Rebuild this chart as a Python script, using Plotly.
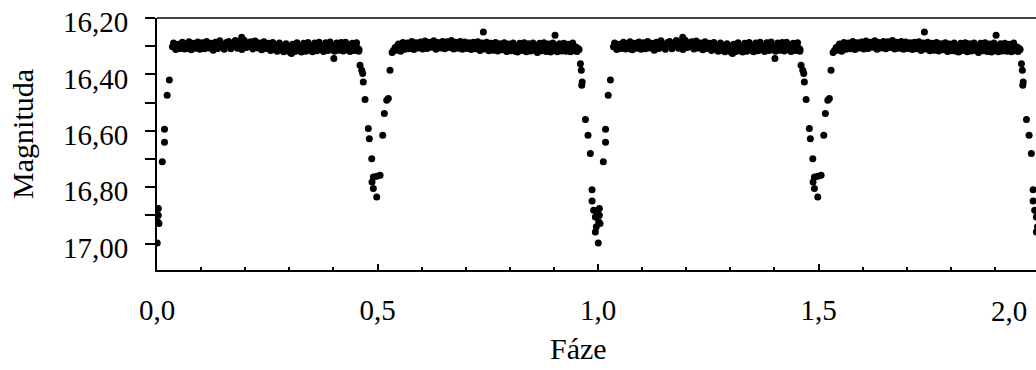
import plotly.graph_objects as go

# ---- one cycle of the folded light curve (phase 0..1) ----
phase_band1 = [0.035, 0.040, 0.045, 0.050, 0.055, 0.060, 0.065, 0.070, 0.075, 0.080,
               0.085, 0.090, 0.095, 0.100, 0.105, 0.110, 0.115, 0.120, 0.125, 0.130,
               0.135, 0.140, 0.145, 0.150, 0.155, 0.160, 0.165, 0.170, 0.175, 0.180,
               0.185, 0.190, 0.195, 0.200, 0.205, 0.210, 0.215, 0.220, 0.225, 0.230,
               0.235, 0.240, 0.245, 0.250, 0.255, 0.260, 0.265, 0.270, 0.275, 0.280,
               0.285, 0.290, 0.295, 0.300, 0.305, 0.310, 0.315, 0.320, 0.325, 0.330,
               0.335, 0.340, 0.345, 0.350, 0.355, 0.360, 0.365, 0.370, 0.375, 0.380,
               0.385, 0.390, 0.395, 0.400, 0.405, 0.410, 0.415, 0.420, 0.425, 0.430,
               0.435, 0.440, 0.445, 0.450, 0.455]
mag_band1 = [16.302, 16.297, 16.305, 16.299, 16.294, 16.301, 16.296, 16.308, 16.300, 16.293,
             16.299, 16.304, 16.296, 16.301, 16.290, 16.297, 16.303, 16.295, 16.300, 16.292,
             16.298, 16.288, 16.296, 16.301, 16.293, 16.287, 16.295, 16.299, 16.291, 16.296,
             16.303, 16.294, 16.289, 16.298, 16.292, 16.300, 16.286, 16.295, 16.299, 16.293,
             16.302, 16.296, 16.290, 16.299, 16.305, 16.294, 16.300, 16.308, 16.297, 16.303,
             16.311, 16.299, 16.306, 16.313, 16.301, 16.309, 16.296, 16.304, 16.312, 16.300,
             16.306, 16.297, 16.303, 16.310, 16.299, 16.305, 16.294, 16.301, 16.307, 16.298,
             16.304, 16.295, 16.302, 16.308, 16.297, 16.303, 16.299, 16.306, 16.296, 16.301,
             16.309, 16.298, 16.304, 16.300, 16.307]

phase_band1b = [0.0375, 0.0425, 0.0475, 0.0525, 0.0575, 0.0625, 0.0675, 0.0725, 0.0775, 0.0825,
                0.0875, 0.0925, 0.0975, 0.1025, 0.1075, 0.1125, 0.1175, 0.1225, 0.1275, 0.1325,
                0.1375, 0.1425, 0.1475, 0.1525, 0.1575, 0.1625, 0.1675, 0.1725, 0.1775, 0.1825,
                0.1875, 0.1925, 0.1975, 0.2025, 0.2075, 0.2125, 0.2175, 0.2225, 0.2275, 0.2325,
                0.2375, 0.2425, 0.2475, 0.2525, 0.2575, 0.2625, 0.2675, 0.2725, 0.2775, 0.2825,
                0.2875, 0.2925, 0.2975, 0.3025, 0.3075, 0.3125, 0.3175, 0.3225, 0.3275, 0.3325,
                0.3375, 0.3425, 0.3475, 0.3525, 0.3575, 0.3625, 0.3675, 0.3725, 0.3775, 0.3825,
                0.3875, 0.3925, 0.3975, 0.4025, 0.4075, 0.4125, 0.4175, 0.4225, 0.4275, 0.4325,
                0.4375, 0.4425, 0.4475, 0.4525, 0.4575]
mag_band1b = [16.289, 16.312, 16.293, 16.308, 16.286, 16.310, 16.291, 16.284, 16.313, 16.290,
              16.307, 16.285, 16.311, 16.288, 16.309, 16.283, 16.306, 16.290, 16.314, 16.286,
              16.308, 16.281, 16.304, 16.311, 16.287, 16.283, 16.309, 16.292, 16.280, 16.307,
              16.285, 16.312, 16.279, 16.305, 16.288, 16.284, 16.310, 16.282, 16.306, 16.289,
              16.313, 16.284, 16.308, 16.290, 16.315, 16.287, 16.311, 16.318, 16.289, 16.314,
              16.320, 16.291, 16.317, 16.322, 16.293, 16.319, 16.288, 16.316, 16.321, 16.290,
              16.318, 16.287, 16.314, 16.320, 16.289, 16.316, 16.286, 16.312, 16.319, 16.288,
              16.315, 16.285, 16.313, 16.318, 16.289, 16.314, 16.287, 16.317, 16.286, 16.313,
              16.319, 16.290, 16.315, 16.288, 16.318]

phase_band2 = [0.540, 0.545, 0.550, 0.555, 0.560, 0.565, 0.570, 0.575, 0.580, 0.585,
               0.590, 0.595, 0.600, 0.605, 0.610, 0.615, 0.620, 0.625, 0.630, 0.635,
               0.640, 0.645, 0.650, 0.655, 0.660, 0.665, 0.670, 0.675, 0.680, 0.685,
               0.690, 0.695, 0.700, 0.705, 0.710, 0.715, 0.720, 0.725, 0.730, 0.735,
               0.740, 0.745, 0.750, 0.755, 0.760, 0.765, 0.770, 0.775, 0.780, 0.785,
               0.790, 0.795, 0.800, 0.805, 0.810, 0.815, 0.820, 0.825, 0.830, 0.835,
               0.840, 0.845, 0.850, 0.855, 0.860, 0.865, 0.870, 0.875, 0.880, 0.885,
               0.890, 0.895, 0.900, 0.905, 0.910, 0.915, 0.920, 0.925, 0.930, 0.935,
               0.940, 0.945, 0.950, 0.955]
mag_band2 = [16.305, 16.299, 16.308, 16.301, 16.294, 16.303, 16.297, 16.290, 16.299, 16.304,
             16.295, 16.300, 16.292, 16.298, 16.303, 16.294, 16.289, 16.297, 16.302, 16.293,
             16.299, 16.291, 16.296, 16.301, 16.288, 16.295, 16.300, 16.292, 16.298, 16.304,
             16.295, 16.290, 16.299, 16.293, 16.301, 16.296, 16.302, 16.297, 16.305, 16.300,
             16.294, 16.303, 16.309, 16.298, 16.304, 16.296, 16.301, 16.307, 16.299, 16.305,
             16.311, 16.300, 16.306, 16.297, 16.303, 16.309, 16.301, 16.296, 16.304, 16.310,
             16.299, 16.305, 16.298, 16.303, 16.312, 16.300, 16.306, 16.297, 16.304, 16.309,
             16.301, 16.296, 16.305, 16.311, 16.299, 16.304, 16.298, 16.307, 16.302, 16.310,
             16.300, 16.306, 16.303, 16.308]

phase_band2b = [0.5425, 0.5475, 0.5525, 0.5575, 0.5625, 0.5675, 0.5725, 0.5775, 0.5825, 0.5875,
                0.5925, 0.5975, 0.6025, 0.6075, 0.6125, 0.6175, 0.6225, 0.6275, 0.6325, 0.6375,
                0.6425, 0.6475, 0.6525, 0.6575, 0.6625, 0.6675, 0.6725, 0.6775, 0.6825, 0.6875,
                0.6925, 0.6975, 0.7025, 0.7075, 0.7125, 0.7175, 0.7225, 0.7275, 0.7325, 0.7375,
                0.7425, 0.7475, 0.7525, 0.7575, 0.7625, 0.7675, 0.7725, 0.7775, 0.7825, 0.7875,
                0.7925, 0.7975, 0.8025, 0.8075, 0.8125, 0.8175, 0.8225, 0.8275, 0.8325, 0.8375,
                0.8425, 0.8475, 0.8525, 0.8575, 0.8625, 0.8675, 0.8725, 0.8775, 0.8825, 0.8875,
                0.8925, 0.8975, 0.9025, 0.9075, 0.9125, 0.9175, 0.9225, 0.9275, 0.9325, 0.9375,
                0.9425, 0.9475, 0.9525]
mag_band2b = [16.314, 16.292, 16.318, 16.287, 16.311, 16.289, 16.309, 16.283, 16.312, 16.288,
              16.306, 16.285, 16.310, 16.282, 16.308, 16.286, 16.304, 16.281, 16.311, 16.287,
              16.306, 16.283, 16.309, 16.284, 16.305, 16.280, 16.310, 16.286, 16.307, 16.283,
              16.311, 16.285, 16.308, 16.288, 16.312, 16.286, 16.309, 16.284, 16.315, 16.289,
              16.310, 16.286, 16.316, 16.290, 16.314, 16.287, 16.317, 16.291, 16.313, 16.288,
              16.319, 16.292, 16.316, 16.289, 16.318, 16.321, 16.290, 16.315, 16.288, 16.320,
              16.291, 16.317, 16.289, 16.314, 16.322, 16.290, 16.316, 16.288, 16.319, 16.292,
              16.321, 16.289, 16.315, 16.320, 16.291, 16.317, 16.290, 16.318, 16.293, 16.320,
              16.289, 16.316, 16.319]

phase_secondary = [0.458, 0.4603, 0.4642, 0.4664, 0.4678, 0.4717, 0.4791, 0.4814, 0.4869,
                   0.4875, 0.4905, 0.4905, 0.4982, 0.4982, 0.5057, 0.5118, 0.5154, 0.5209,
                   0.5245, 0.5283, 0.533, 0.536]
mag_secondary = [16.312, 16.368, 16.385, 16.397, 16.427, 16.489, 16.592, 16.628, 16.699,
                 16.782, 16.764, 16.805, 16.761, 16.835, 16.758, 16.616, 16.539, 16.492,
                 16.486, 16.385, 16.322, 16.315]

phase_primary = [0.957, 0.960, 0.962, 0.964, 0.963, 0.9714, 0.9773, 0.9825, 0.9864, 0.9864,
                 0.9900, 0.9939, 0.9977, 0.9961, 0.9939,
                 0.0005, 0.0014, 0.003, 0.003, 0.0045, 0.012, 0.017, 0.017, 0.023, 0.028]
mag_primary = [16.312, 16.362, 16.385, 16.427, 16.439, 16.560, 16.616, 16.681, 16.809, 16.849,
               16.882, 16.906, 16.888, 16.941, 16.959,
               16.998, 16.923, 16.876, 16.900, 16.929, 16.710, 16.595, 16.641, 16.474, 16.420]

phase_outliers = [0.192, 0.305, 0.401, 0.740, 0.9025]
mag_outliers = [16.268, 16.326, 16.344, 16.250, 16.261]

cycles = [0, 1]  # the folded curve is shown twice

phase_cycle = (phase_band1 + phase_band1b + phase_band2 + phase_band2b
               + phase_secondary + phase_primary + phase_outliers)
mag_cycle = (mag_band1 + mag_band1b + mag_band2 + mag_band2b
             + mag_secondary + mag_primary + mag_outliers)

x_vals = [p + c for c in cycles for p in phase_cycle]
y_vals = [m for c in cycles for m in mag_cycle]

FONT = "Liberation Serif"
FS = 29
FT = 30

fig = go.Figure()
fig.add_trace(go.Scatter(
    x=x_vals, y=y_vals, mode="markers",
    marker=dict(color="black", size=7, symbol="circle"),
    showlegend=False, hoverinfo="skip",
))

fig.update_layout(
    width=1036, height=370,
    margin=dict(l=157, r=0, t=18, b=100),
    paper_bgcolor="white", plot_bgcolor="white",
    separators=", ",
    font=dict(family=FONT, size=FS, color="black"),
    showlegend=False,
)

fig.update_xaxes(
    range=[0, 1.993],
    tickvals=[0, 0.5, 1.0, 1.5],
    tickformat=".1f",
    ticks="inside", ticklen=6, tickwidth=2, tickcolor="black",
    minor=dict(dtick=0.1, ticks="inside", ticklen=3, tickwidth=1.5, tickcolor="black"),
    showline=True, linecolor="black", linewidth=2,
    showgrid=False, zeroline=False,
    ticklabelstandoff=13,
    tickfont=dict(family=FONT, size=FS, color="black"),
)

fig.update_yaxes(
    range=[17.094, 16.200],
    dtick=0.2, tick0=16.2,
    tickformat=".2f",
    ticks="outside", ticklen=10, tickwidth=2, tickcolor="black",
    minor=dict(dtick=0.1, ticks="outside", ticklen=10, tickwidth=2, tickcolor="black"),
    showline=True, linecolor="black", linewidth=2,
    showgrid=False, zeroline=False,
    ticklabelstandoff=11,
    ticklabelshift=-4,
    tickfont=dict(family=FONT, size=FS, color="black"),
)

# top border
fig.add_shape(type="line", xref="paper", yref="paper", x0=0, x1=1, y0=1, y1=1,
              line=dict(color="#444444", width=2))

fig.add_annotation(text="2,0", xref="paper", yref="paper", x=1, y=-0.163,
                   xanchor="right", yanchor="middle", xshift=-7, showarrow=False,
                   font=dict(family=FONT, size=FS, color="black"))
fig.add_annotation(text="Fáze", xref="x", yref="paper", x=0.955, y=-0.31,
                   xanchor="center", yanchor="middle", showarrow=False,
                   font=dict(family=FONT, size=FT, color="black"))
fig.add_annotation(text="Magnituda", xref="paper", yref="paper", x=0, y=0.54,
                   xanchor="center", yanchor="middle", xshift=-134, textangle=-90,
                   showarrow=False, font=dict(family=FONT, size=FT, color="black"))

fig.write_html("out.html")
